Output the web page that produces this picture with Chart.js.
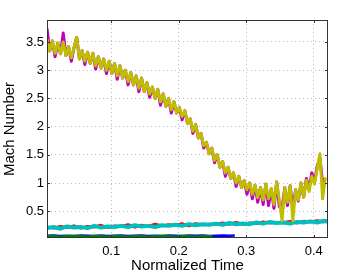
<!DOCTYPE html>
<html>
<head>
<meta charset="utf-8">
<script src="https://cdn.jsdelivr.net/npm/chart.js@4"></script>
<style>
html,body{margin:0;padding:0;background:#fff;}
#wrap{width:362px;height:275px;}
</style>
</head>
<body>
<div id="wrap"><canvas id="c" width="362" height="275"></canvas></div>
<script>
const tMain = [0.005,0.009,0.013,0.017,0.021,0.025,0.029,0.033,0.037,0.041,
  0.045,0.049,0.053,0.057,0.061,0.065,0.069,0.073,0.077,0.081,
  0.085,0.089,0.093,0.097,0.101,0.105,0.109,0.113,0.117,0.121,
  0.125,0.129,0.133,0.137,0.141,0.145,0.149,0.153,0.157,0.161,
  0.165,0.169,0.173,0.177,0.181,0.185,0.189,0.193,0.197,0.201,
  0.205,0.209,0.213,0.217,0.221,0.225,0.229,0.233,0.237,0.241,
  0.245,0.249,0.253,0.257,0.261,0.265,0.269,0.273,0.277,0.281,
  0.285,0.289,0.293,0.297,0.301,0.305,0.309,0.313,0.317,0.321,
  0.325,0.329,0.333,0.337,0.341,0.345,0.349,0.353,0.357,0.361,
  0.365,0.369,0.373,0.377,0.381,0.385,0.389,0.393,0.397,0.401,
  0.405,0.409,0.413,0.417];
const machYellow = [3.55,3.34,3.52,3.30,3.48,3.29,3.50,3.26,3.42,3.22,
  3.40,3.58,3.20,3.35,3.16,3.32,3.12,3.30,3.08,3.24,
  3.04,3.20,3.00,3.16,2.94,3.12,2.90,3.08,2.86,3.00,
  2.80,2.96,2.74,2.90,2.68,2.86,2.62,2.78,2.58,2.70,
  2.50,2.66,2.44,2.58,2.36,2.50,2.30,2.44,2.24,2.34,
  2.18,2.28,2.06,2.14,1.92,2.04,1.80,1.88,1.66,1.72,
  1.52,1.62,1.40,1.50,1.28,1.38,1.18,1.28,1.08,1.18,
  1.00,1.12,0.92,1.04,0.88,1.00,0.80,0.96,0.74,0.92,
  0.70,0.98,0.72,0.90,0.62,1.02,0.70,0.33,0.92,0.66,
  0.95,0.33,0.88,0.70,1.00,0.75,1.05,0.85,1.12,0.98,
  1.25,1.52,0.72,1.10];
const machMagenta = [3.74,3.34,3.52,3.24,3.48,3.29,3.66,3.26,3.42,3.16,
  3.40,3.58,3.20,3.35,3.10,3.32,3.12,3.30,3.02,3.24,
  3.04,3.20,2.94,3.16,2.94,3.12,2.84,3.08,2.86,3.00,
  2.74,2.96,2.74,2.90,2.62,2.86,2.62,2.78,2.52,2.70,
  2.50,2.66,2.38,2.58,2.36,2.50,2.24,2.44,2.24,2.34,
  2.12,2.28,2.06,2.14,1.88,2.04,1.80,1.88,1.62,1.72,
  1.52,1.62,1.36,1.50,1.28,1.38,1.12,1.28,1.08,1.18,
  0.94,1.12,0.92,1.04,0.80,1.00,0.72,0.96,0.66,0.92,
  0.62,0.98,0.60,0.90,0.55,1.02,0.58,0.55,0.92,0.60,
  0.95,0.55,0.88,0.68,1.00,0.75,1.08,0.90,1.18,1.02,
  1.30,1.45,1.00,1.08];
const tLow = [0.005,0.015,0.025,0.035,0.045,0.055,0.065,0.075,0.085,0.095,0.105,0.115,0.125,0.135,0.145,0.155,0.165,0.175,0.185,0.195,0.205,0.215,0.225,0.235,0.245,0.255,0.265,0.275,0.285,0.295,0.305,0.315,0.325,0.335,0.345,0.355,0.365,0.375,0.385,0.395,0.405,0.415,0.421];
const machCyan = [0.20,0.22,0.19,0.23,0.21,0.22,0.20,0.24,0.21,0.23,0.22,0.24,0.22,0.25,0.23,0.24,0.22,0.25,0.24,0.26,0.24,0.27,0.25,0.27,0.26,0.28,0.26,0.29,0.27,0.28,0.27,0.30,0.28,0.31,0.29,0.30,0.28,0.31,0.30,0.32,0.30,0.33,0.31];
const machRed = [0.22,0.20,0.23,0.21,0.24,0.20,0.23,0.22,0.25,0.21,0.24,0.23,0.26,0.22,0.25,0.23,0.27,0.24,0.26,0.25,0.28,0.24,0.28,0.26,0.27,0.27,0.29,0.27,0.30,0.27,0.29,0.28,0.31,0.29,0.30,0.30,0.32,0.29,0.32,0.31,0.33,0.31,0.34];
const tBlue = [0.005,0.015,0.025,0.035,0.045,0.055,0.065,0.075,0.085,0.095,0.105,0.115,0.125,0.135,0.145,0.155,0.165,0.175,0.185,0.195,0.205,0.215,0.225,0.235,0.245,0.255,0.265,0.275,0.283];
const machBlue = [0.065,0.07,0.06,0.065,0.06,0.07,0.065,0.06,0.07,0.06,0.065,0.07,0.06,0.065,0.07,0.06,0.065,0.06,0.07,0.065,0.06,0.07,0.065,0.07,0.06,0.065,0.07,0.065,0.07];
const tGreen = [0.005,0.015,0.025,0.035,0.045,0.055,0.065,0.075,0.085,0.095,0.105,0.115,0.125,0.135,0.145,0.155,0.165,0.175,0.185,0.195,0.205,0.215,0.225,0.235,0.245,0.250];
const machGreen = [0.045,0.05,0.04,0.045,0.05,0.045,0.04,0.05,0.045,0.04,0.05,0.045,0.04,0.045,0.05,0.04,0.045,0.05,0.045,0.04,0.05,0.045,0.04,0.05,0.045,0.045];
const xTicks = [0.1,0.2,0.3,0.4];
const yTicks = [0.5,1,1.5,2,2.5,3,3.5];
const xTitle = 'Normalized Time';
const yTitle = 'Mach Number';

function pts(xs, ys){ return xs.map((x,i)=>({x:x,y:ys[i]})); }
function ds(xs, ys, color, w){
  return {data:pts(xs,ys), borderColor:color, backgroundColor:color, borderWidth:w, pointRadius:0, tension:0, fill:false, borderJoinStyle:'round'};
}
const FONT = "'Liberation Sans', Arial, sans-serif";

const frame = {
  id:'frame',
  afterDatasetsDraw(chart){
    const {ctx, chartArea:a, scales} = chart;
    ctx.save();
    ctx.strokeStyle = '#333';
    ctx.lineWidth = 1;
    ctx.strokeRect(a.left+0.5, a.top+0.5, a.right-a.left-1, a.bottom-a.top-1);
    ctx.beginPath();
    xTicks.forEach(v=>{
      const px = Math.round(scales.x.getPixelForValue(v))+0.5;
      ctx.moveTo(px,a.bottom); ctx.lineTo(px,a.bottom-3);
      ctx.moveTo(px,a.top); ctx.lineTo(px,a.top+3);
    });
    yTicks.forEach(v=>{
      const py = Math.round(scales.y.getPixelForValue(v))+0.5;
      ctx.moveTo(a.left,py); ctx.lineTo(a.left+3,py);
      ctx.moveTo(a.right,py); ctx.lineTo(a.right-3,py);
    });
    ctx.stroke();
    ctx.restore();
  }
};

new Chart(document.getElementById('c'), {
  type:'line',
  data:{datasets:[
    ds(tMain, machYellow, '#bfbf00', 3),
    ds(tMain, machMagenta, '#bf00bf', 3),
    ds(tLow, machCyan, '#00bfbf', 4),
    ds(tLow, machRed, '#ff0000', 3),
    ds(tGreen, machGreen, '#008000', 3.5),
    ds(tBlue, machBlue, '#0000ff', 2.5)
  ]},
  options:{
    responsive:false,
    animation:false,
    layout:{padding:{top:20,right:34,left:0,bottom:0}},
    plugins:{legend:{display:false}, tooltip:{enabled:false}},
    scales:{
      x:{type:'linear', min:0.005, max:0.421,
        afterBuildTicks(s){ s.ticks = xTicks.map(v=>({value:v})); },
        afterFit(s){ s.height = 37; },
        border:{display:false, dash:[1,3]},
        grid:{color:'#bbbbbb', tickLength:0, drawTicks:false},
        ticks:{padding:6, maxRotation:0, color:'#000', font:{family:FONT,size:13}, callback:v=>String(v)},
        title:{display:true, text:xTitle, color:'#000', font:{family:FONT,size:15}, padding:{top:0,bottom:0}}
      },
      y:{type:'linear', min:0.025, max:3.89,
        afterBuildTicks(s){ s.ticks = yTicks.map(v=>({value:v})); },
        afterFit(s){ s.width = 47; },
        border:{display:false, dash:[1,3]},
        grid:{color:'#bbbbbb', tickLength:0, drawTicks:false},
        ticks:{padding:3, color:'#000', font:{family:FONT,size:13}, callback:v=>String(v)},
        title:{display:true, text:yTitle, color:'#000', font:{family:FONT,size:15}, padding:{top:1,bottom:0}}
      }
    }
  },
  plugins:[frame]
});
</script>
</body>
</html>
